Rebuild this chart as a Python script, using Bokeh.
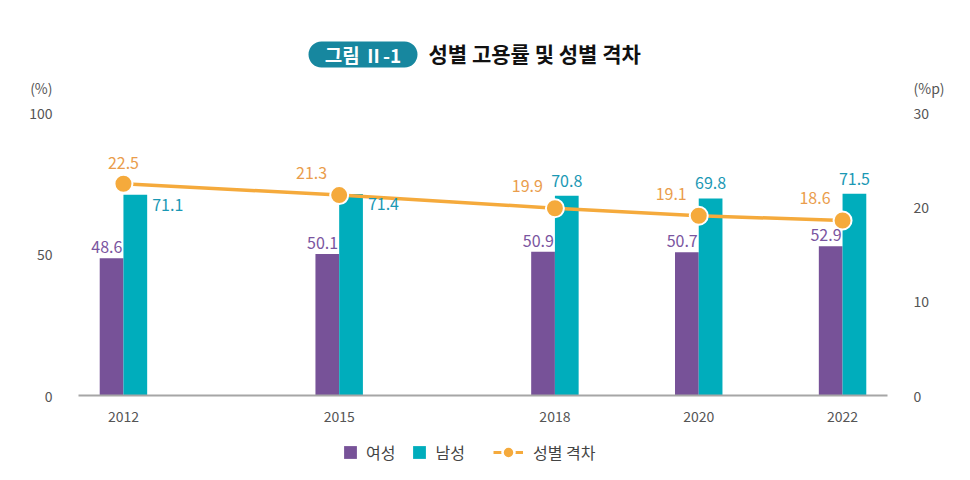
from bokeh.plotting import figure
from bokeh.layouts import column
from bokeh.models import (ColumnDataSource, Range1d, LinearAxis, FixedTicker, Label,
                          Legend, LegendItem, BoxAnnotation)
from bokeh.core.properties import value
from bokeh.embed import file_html
from bokeh.resources import INLINE

# ---- data ----
years = [2012, 2015, 2018, 2020, 2022]
female = [48.6, 50.1, 50.9, 50.7, 52.9]
male = [71.1, 71.4, 70.8, 69.8, 71.5]
gap = [22.5, 21.3, 19.9, 19.1, 18.6]
left_ticks = [0, 50, 100]
right_ticks = [0, 10, 20, 30]
left_unit = "(%)"
right_unit = "(%p)"
legend_labels = ["여성", "남성", "성별 격차"]
title_tag = "그림 Ⅱ-1"
title_text = "성별 고용률 및 성별 격차"

# ---- styles ----
FONT = "Noto Sans CJK KR"
PURPLE = "#775298"
TEAL = "#00adbc"
ORANGE = "#f5aa3c"
PURPLE_TXT = "#7a55a0"
TEAL_TXT = "#1a98b4"
ORANGE_TXT = "#ea9d4c"
TICK_TXT = "#555555"
TAG_BG = "#17879f"
BW = 0.33
W = 970
Y_TOP = 130          # headroom above the 100 line for title and units
UNIT_POS = 108.75    # vertical position of the unit captions (left-axis units)
RATIO = 0.3          # right axis / left axis

# label placement (style only)
male_mode = ["right", "right", "above", "above", "above"]
gap_mode = ["center", "left", "left", "left", "left"]

# ---------------- main chart ----------------
src = ColumnDataSource(dict(
    year=years, female=female, male=male, gap=gap,
    fx=[y - BW / 2 for y in years], mx=[y + BW / 2 for y in years],
    flab=[f"{v:.1f}" for v in female],
))

p = figure(width=W, height=430, output_backend="svg", toolbar_location=None,
           x_range=Range1d(years[0] - 0.625, years[-1] + 0.625), y_range=Range1d(0, Y_TOP),
           min_border_left=78, min_border_right=83, min_border_top=28, min_border_bottom=35)
p.outline_line_color = None
p.grid.visible = False
p.extra_y_ranges = {"gap": Range1d(0, Y_TOP * RATIO)}

p.xaxis.ticker = FixedTicker(ticks=years)
p.xaxis.axis_line_color = "#a6a6a6"
p.xaxis.axis_line_width = 2
p.xaxis.major_tick_line_color = None
p.xaxis.minor_tick_line_color = None
p.xaxis.major_label_text_font = FONT
p.xaxis.major_label_text_font_size = "14px"
p.xaxis.major_label_text_color = TICK_TXT
p.xaxis.major_label_standoff = 9

p.yaxis.ticker = FixedTicker(ticks=left_ticks + [UNIT_POS])
p.yaxis.major_label_overrides = {UNIT_POS: left_unit}
p.yaxis.axis_line_color = None
p.yaxis.major_tick_line_color = None
p.yaxis.minor_tick_line_color = None
p.yaxis.major_label_text_font = FONT
p.yaxis.major_label_text_font_size = "14px"
p.yaxis.major_label_text_color = TICK_TXT
p.yaxis.major_label_standoff = 20

r_unit = round(UNIT_POS * RATIO, 4)
ra = LinearAxis(y_range_name="gap", ticker=FixedTicker(ticks=right_ticks + [r_unit]))
ra.major_label_overrides = {r_unit: right_unit}
ra.axis_line_color = None
ra.major_tick_line_color = None
ra.minor_tick_line_color = None
ra.major_label_text_font = FONT
ra.major_label_text_font_size = "14px"
ra.major_label_text_color = TICK_TXT
ra.major_label_standoff = 20
p.add_layout(ra, "right")

p.vbar(x="fx", top="female", width=BW, source=src, fill_color=PURPLE, line_color=None)
p.vbar(x="mx", top="male", width=BW, source=src, fill_color=TEAL, line_color=None)

p.line(x="year", y="gap", source=src, y_range_name="gap", line_color=ORANGE, line_width=3.5)
p.scatter(x="year", y="gap", source=src, y_range_name="gap", size=18,
          fill_color=ORANGE, line_color="white", line_width=2)

p.text(x="year", y="female", text="flab", source=src, text_align="right",
       text_baseline="bottom", x_offset=-1, y_offset=-5, text_font=value(FONT),
       text_font_size="16px", text_color=PURPLE_TXT)

for i, yr in enumerate(years):
    if male_mode[i] == "right":
        p.add_layout(Label(x=yr + BW, y=male[i], text=f"{male[i]:.1f}", x_offset=5, y_offset=-4,
                           text_align="left", text_baseline="top", text_font=FONT,
                           text_font_size="16px", text_color=TEAL_TXT))
    else:
        p.add_layout(Label(x=yr + BW / 2, y=male[i], text=f"{male[i]:.1f}", y_offset=9,
                           text_align="center", text_baseline="bottom", text_font=FONT,
                           text_font_size="16px", text_color=TEAL_TXT))
    if gap_mode[i] == "center":
        p.add_layout(Label(x=yr, y=gap[i], y_range_name="gap", text=f"{gap[i]:.1f}", y_offset=15,
                           text_align="center", text_baseline="bottom", text_font=FONT,
                           text_font_size="16px", text_color=ORANGE_TXT))
    else:
        p.add_layout(Label(x=yr, y=gap[i], y_range_name="gap", text=f"{gap[i]:.1f}", x_offset=-12,
                           y_offset=16, text_align="right", text_baseline="bottom", text_font=FONT,
                           text_font_size="16px", text_color=ORANGE_TXT))

# title (screen units relative to the plot frame)
p.add_layout(BoxAnnotation(left=230, right=339, top=354, bottom=328,
                           left_units="screen", right_units="screen",
                           top_units="screen", bottom_units="screen",
                           fill_color=TAG_BG, fill_alpha=1, line_color=None,
                           border_radius=13, level="annotation"))
p.add_layout(Label(x=284.5, y=341, x_units="screen", y_units="screen", text=title_tag,
                   text_align="center", text_baseline="middle", text_font=FONT,
                   text_font_size="19px", text_font_style="bold", text_color="white"))
p.add_layout(Label(x=350, y=343, x_units="screen", y_units="screen", text=title_text,
                   text_align="left", text_baseline="middle", text_font=FONT,
                   text_font_size="21px", text_font_style="bold", text_color="#111111"))

# ---------------- legend strip ----------------
foot = figure(width=W, height=50, output_backend="svg", toolbar_location=None,
              x_range=Range1d(0, 1), y_range=Range1d(0, 1))
foot.outline_line_color = None
foot.grid.visible = False
foot.axis.visible = False
foot.min_border = 0
nan_src = ColumnDataSource(dict(x=[float("nan")], y=[float("nan")]))
sq_f = foot.scatter(x="x", y="y", source=nan_src, marker="square", fill_color=PURPLE, line_color=None)
sq_m = foot.scatter(x="x", y="y", source=nan_src, marker="square", fill_color=TEAL, line_color=None)
lg_l = foot.line(x="x", y="y", source=nan_src, line_color=ORANGE, line_width=3)
lg_d = foot.scatter(x="x", y="y", source=nan_src, fill_color=ORANGE, line_color="white", line_width=2.5)

common = dict(orientation="horizontal", glyph_height=32, label_height=32, padding=0, margin=0,
              border_line_color=None, background_fill_alpha=0, label_text_font=FONT,
              label_text_font_size="16px", label_text_color="#444444",
              label_text_baseline="middle")
legA = Legend(items=[LegendItem(label=legend_labels[0], renderers=[sq_f]),
                     LegendItem(label=legend_labels[1], renderers=[sq_m])],
              location=(256, 12), glyph_width=32, label_standoff=0, spacing=8, **common)
legB = Legend(items=[LegendItem(label=legend_labels[2], renderers=[lg_l, lg_d])],
              location=(415, 12), glyph_width=30, label_standoff=10, **common)
foot.add_layout(legA, "center")
foot.add_layout(legB, "center")

layout = column(p, foot, spacing=0)
open("out.html", "w").write(file_html(layout, INLINE))
